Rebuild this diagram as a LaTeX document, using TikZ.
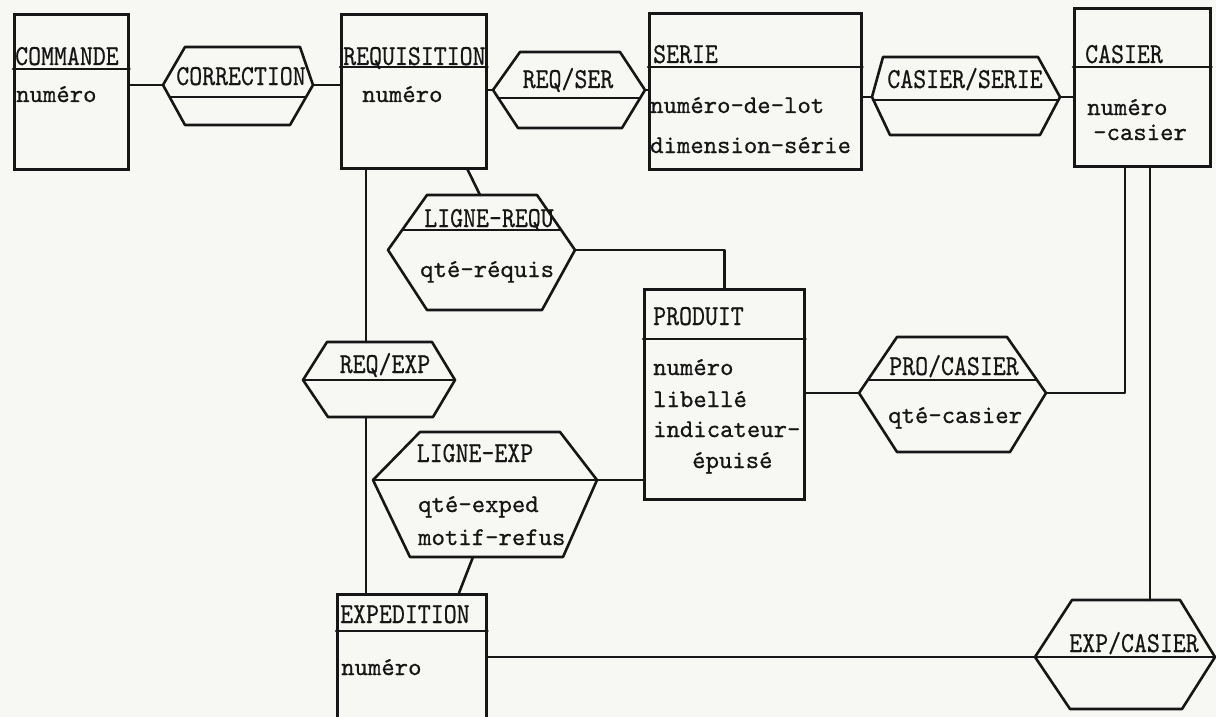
\documentclass[tikz,border=0pt]{standalone}
\usepackage{fontspec}
\newfontfamily\hfont{lmmono10-regular.otf}[FakeStretch=0.85,FakeBold=0.5]
\newfontfamily\afont{lmmono10-regular.otf}[FakeBold=0.7]
\usetikzlibrary{calc}
\definecolor{bg}{RGB}{247,247,243}
\definecolor{ink}{RGB}{22,22,22}
\tikzset{
  ln/.style={draw=ink, line width=2.6pt, line join=round, line cap=round},
  ent/.style={draw=ink, line width=2.6pt, rectangle, inner sep=0pt, anchor=north west},
  hd/.style={inner sep=0pt, text=ink, font=\hfont\fontsize{29}{30}\selectfont},
  attr/.style={inner sep=0pt, text=ink, anchor=base west, font=\afont\fontsize{25.5}{30}\selectfont},
}
\begin{document}
\begin{tikzpicture}[x=1pt,y=-1pt]
\path[use as bounding box, fill=bg] (0,0) rectangle (1216,717);
\clip (0,0) rectangle (1216,717);

% ---------- entities ----------
\node[ent, minimum width=114pt, minimum height=155pt] (commande) at (13,13) {};
\draw[ln] ($(commande.north west)+(0,56)$) -- ($(commande.north east)+(0,56)$);
\node[hd, anchor=base west] (commandeT) at (15,65) {COMMANDE};
\node[attr] (commandeA) at (16,102) {numéro};

\node[ent, minimum width=145pt, minimum height=154pt] (requisition) at (340,13) {};
\draw[ln] ($(requisition.north west)+(0,54)$) -- ($(requisition.north east)+(0,54)$);
\node[hd, anchor=base west] (requisitionT) at (343,65) {REQUISITION};
\node[attr] (requisitionA) at (362,102) {numéro};

\node[ent, minimum width=212pt, minimum height=156pt] (serie) at (648,12) {};
\draw[ln] ($(serie.north west)+(0,55)$) -- ($(serie.north east)+(0,55)$);
\node[hd, anchor=base west] (serieT) at (653,63) {SERIE};
\node[attr] (serieA) at (650,113) {numéro-de-lot};
\node[attr] (serieB) at (650,153) {dimension-série};

\node[ent, minimum width=136pt, minimum height=158pt] (casier) at (1073,7) {};
\draw[ln] ($(casier.north west)+(0,60)$) -- ($(casier.north east)+(0,60)$);
\node[hd, anchor=base west] (casierT) at (1085,63) {CASIER};
\node[attr] (casierA) at (1087,115) {numéro};
\node[attr] (casierB) at (1093,140) {-casier};

\node[ent, minimum width=160pt, minimum height=210pt] (produit) at (643,288) {};
\draw[ln] ($(produit.north west)+(0,51)$) -- ($(produit.north east)+(0,51)$);
\node[hd, anchor=base west] (produitT) at (653,325) {PRODUIT};
\node[attr] (produitA) at (653,375) {numéro};
\node[attr] (produitB) at (653,407) {libellé};
\node[attr] (produitC) at (653,437) {indicateur-};
\node[attr] (produitD) at (692,468) {épuisé};

\node[ent, minimum width=149pt, minimum height=130pt] (expedition) at (336,593) {};
\draw[ln] ($(expedition.north west)+(0,38)$) -- ($(expedition.north east)+(0,38)$);
\node[hd, anchor=base west] (expeditionT) at (340,623) {EXPEDITION};
\node[attr] (expeditionA) at (341,675) {numéro};

% ---------- relationships ----------
% CORRECTION
\coordinate (corrL) at (163,85); \coordinate (corrR) at (313,85);
\draw[ln] (corrL) -- (185,47) -- (300,47) -- (corrR) -- (290,125) -- (185,125) -- cycle;
\draw[ln] (170,97) -- (306,97);
\node[hd, anchor=base] (correction) at (241,85) {CORRECTION};

% REQ/SER
\coordinate (rsL) at (493,90); \coordinate (rsR) at (645,90);
\draw[ln] (rsL) -- (520,52) -- (620,52) -- (rsR) -- (622,128) -- (518,128) -- cycle;
\draw[ln] (498,98) -- (640,98);
\node[hd, anchor=base] (reqser) at (568,88) {REQ/SER};

% CASIER/SERIE
\coordinate (csL) at (872,97); \coordinate (csR) at (1060,97);
\draw[ln] (csL) -- (883,57) -- (1038,57) -- (csR) -- (1040,135) -- (890,135) -- cycle;
\draw[ln] (873,100) -- (1058,100);
\node[hd, anchor=base] (casierserie) at (965,88) {CASIER/SERIE};

% LIGNE-REQU
\coordinate (lrL) at (388,250); \coordinate (lrR) at (575,250); \coordinate (lrT) at (480,195);
\draw[ln] (lrL) -- (427,195) -- (537,195) -- (lrR) -- (542,310) -- (427,310) -- cycle;
\draw[ln] (402,230) -- (561,230);
\node[hd, anchor=base] (lignerequ) at (489,227) {LIGNE-REQU};
\node[attr] (lignerequA) at (420,277) {qté-réquis};

% REQ/EXP
\coordinate (reL) at (303,380); \coordinate (reR) at (455,380);
\coordinate (reT) at (366,342); \coordinate (reB) at (366,417);
\draw[ln] (reL) -- (327,342) -- (432,342) -- (reR) -- (433,417) -- (328,417) -- cycle;
\draw[ln] (reL) -- (reR);
\node[hd, anchor=base] (reqexp) at (385,373) {REQ/EXP};

% PRO/CASIER
\coordinate (pcL) at (859,393); \coordinate (pcR) at (1046,393);
\draw[ln] (pcL) -- (897,337) -- (1007,337) -- (pcR) -- (1010,452) -- (897,452) -- cycle;
\draw[ln] (868,380) -- (1037,380);
\node[hd, anchor=base] (procasier) at (954,375) {PRO/CASIER};
\node[attr] (procasierA) at (888,423) {qté-casier};

% LIGNE-EXP
\coordinate (leL) at (373,480); \coordinate (leR) at (597,480); \coordinate (leB) at (473,557);
\draw[ln] (leL) -- (420,432) -- (560,432) -- (leR) -- (563,557) -- (410,557) -- cycle;
\draw[ln] (leL) -- (leR);
\node[hd, anchor=base] (ligneexp) at (475,462) {LIGNE-EXP};
\node[attr] (ligneexpA) at (418,512) {qté-exped};
\node[attr] (ligneexpB) at (418,545) {motif-refus};

% EXP/CASIER
\coordinate (ecL) at (1035,657); \coordinate (ecR) at (1215,657); \coordinate (ecT) at (1150,600);
\draw[ln] (ecL) -- (1072,600) -- (1180,600) -- (ecR) -- (1182,709) -- (1070,709) -- cycle;
\draw[ln] (ecL) -- (ecR);
\node[hd, anchor=base] (expcasier) at (1134,652) {EXP/CASIER};

% ---------- connectors ----------
\draw[ln] (corrL -| commande.east) -- (corrL);
\draw[ln] (corrR) -- (corrR -| requisition.west);
\draw[ln] (rsL -| requisition.east) -- (rsL);
\draw[ln] (rsR) -- (rsR -| serie.west);
\draw[ln] (csL -| serie.east) -- (csL);
\draw[ln] (csR) -- (csR -| casier.west);
\draw[ln] ($(requisition.south east)+(-20,0)$) -- (lrT);
\draw[ln] (reT |- requisition.south) -- (reT);
\draw[ln] (reB) -- (reB |- expedition.north);
\draw[ln] (lrR) -| (produit.north);
\draw[ln] (leR) -- (leR -| produit.west);
\draw[ln] (leB) -- ($(expedition.north west)+(123,0)$);
\draw[ln] (pcL -| produit.east) -- (pcL);
\draw[ln] (pcR) -| ($(casier.south west)+(52,0)$);
\draw[ln] (ecT |- casier.south) -- (ecT);
\draw[ln] (ecL -| expedition.east) -- (ecL);
\end{tikzpicture}
\end{document}
